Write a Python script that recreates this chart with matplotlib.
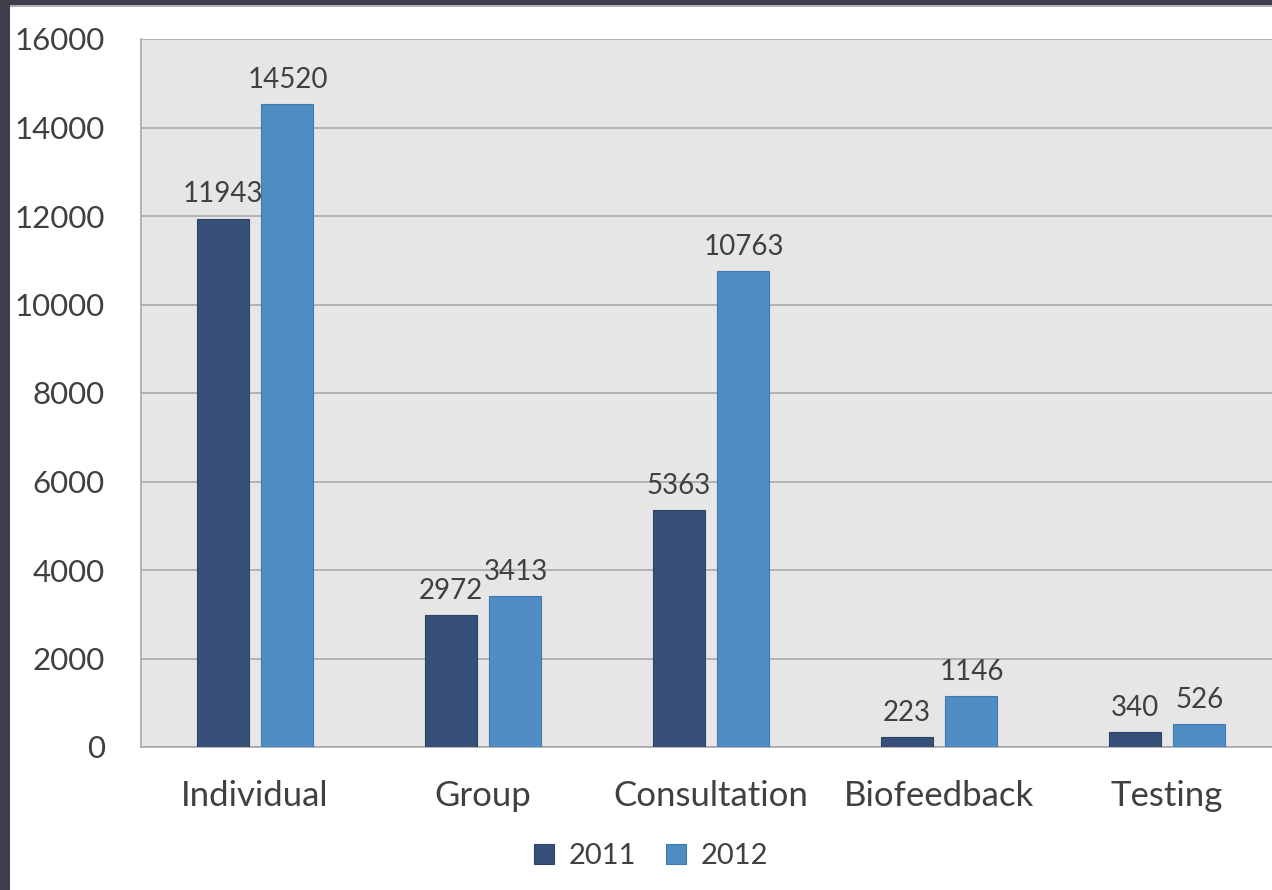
import matplotlib.pyplot as plt
import numpy as np
from matplotlib.patches import Rectangle

categories = ["Individual", "Group", "Consultation", "Biofeedback", "Testing"]
years = ["2011", "2012"]
values_2011 = [11943, 2972, 5363, 223, 340]
values_2012 = [14520, 3413, 10763, 1146, 526]
y_ticks = [0, 2000, 4000, 6000, 8000, 10000, 12000, 14000, 16000]

colors = ["#36507a", "#4f8dc4"]
edge_colors = ["#2c4266", "#4079b0"]
text_color = "#404040"

plt.rcParams['font.family'] = ['Lato', 'DejaVu Sans']


def draw_chart():
    fig = plt.figure(figsize=(12.72, 8.90), dpi=100)
    fig.patch.set_facecolor("#3e3e4c")
    # white slide area with thin gray edge at the top
    fig.patches.append(Rectangle((10 / 1272, 0), 1, 884 / 890, transform=fig.transFigure,
                                 facecolor="white", edgecolor="none", zorder=-2))
    fig.patches.append(Rectangle((10 / 1272, 883 / 890), 1, 2 / 890, transform=fig.transFigure,
                                 facecolor="#b0b0b0", edgecolor="none", zorder=-1))

    ax = fig.add_axes([141 / 1272, 143 / 890, 1140 / 1272, 708 / 890])
    ax.set_facecolor("#e6e6e6")

    x = np.arange(len(categories))
    width = 0.228
    offset = 0.1425
    for i, (vals, label) in enumerate(zip([values_2011, values_2012], years)):
        pos = x + (offset if i else -offset)
        bars = ax.bar(pos, vals, width, color=colors[i], edgecolor=edge_colors[i],
                      linewidth=0.8, label=label, zorder=3)
        for b, v in zip(bars, vals):
            ax.annotate(str(v), (b.get_x() + b.get_width() / 2, v), xytext=(0, 8),
                        textcoords="offset points", ha="center", va="bottom",
                        fontsize=20, color=text_color, zorder=4)

    ax.set_xlim(-0.5, len(categories) - 0.5)
    ax.set_ylim(0, 16000)
    ax.set_yticks(y_ticks)
    ax.set_yticklabels([str(t) for t in y_ticks])
    ax.set_xticks(x)
    ax.set_xticklabels(categories)
    ax.tick_params(axis="y", length=0, pad=26, labelsize=22.5, labelcolor=text_color)
    ax.tick_params(axis="x", length=0, pad=24, labelsize=25, labelcolor=text_color)
    ax.yaxis.grid(True, color="#a8a8a8", linewidth=1.2, zorder=0)
    ax.set_axisbelow(True)
    for side in ["top", "right"]:
        ax.spines[side].set_visible(False)
    for side in ["left", "bottom"]:
        ax.spines[side].set_color("#a8a8a8")
        ax.spines[side].set_linewidth(1.2)

    fig.legend(loc="center", bbox_to_anchor=(651 / 1272, 1 - 856 / 890), ncol=2,
               frameon=False, fontsize=21, labelcolor=text_color, handlelength=0.7,
               handleheight=0.7, handletextpad=0.5, columnspacing=1.0)

    fig.savefig("out.png", dpi=100, facecolor=fig.get_facecolor())


if __name__ == "__main__":
    draw_chart()
